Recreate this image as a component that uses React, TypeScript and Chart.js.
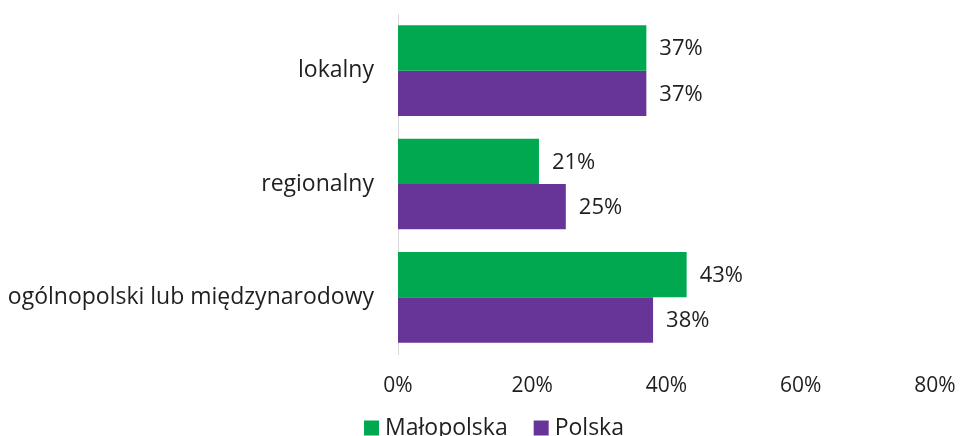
import React, { useEffect, useRef } from "react";
import { Chart, registerables } from "chart.js";

Chart.register(...registerables);

const categories = ["lokalny", "regionalny", "ogólnopolski lub międzynarodowy"];
const malopolska = [37, 21, 43];
const polska = [37, 25, 38];
const seriesNames = ["Małopolska", "Polska"];
const seriesColors = ["#00A94F", "#673597"];
const xTicks = [0, 20, 40, 60, 80];

const FONT = "'Open Sans', sans-serif";
const TEXT = "#1f1f1f";

const valueLabels = {
  id: "valueLabels",
  afterDatasetsDraw(chart: any) {
    const ctx = chart.ctx;
    ctx.save();
    ctx.font = `22px ${FONT}`;
    ctx.fillStyle = TEXT;
    ctx.textAlign = "left";
    ctx.textBaseline = "middle";
    chart.data.datasets.forEach((ds: any, i: number) => {
      const meta = chart.getDatasetMeta(i);
      meta.data.forEach((bar: any, j: number) => {
        ctx.fillText(`${ds.data[j]}%`, bar.x + 13, bar.y + 1);
      });
    });
    ctx.restore();
  },
};

const bottomLegend = {
  id: "bottomLegend",
  afterDraw(chart: any) {
    const ctx = chart.ctx;
    ctx.save();
    ctx.font = `23px ${FONT}`;
    ctx.textBaseline = "middle";
    ctx.textAlign = "left";
    const box = 15;
    const gapBoxText = 6;
    const gapItems = 26;
    const items = chart.data.datasets.map((ds: any) => ({
      label: ds.label,
      color: ds.backgroundColor,
      w: ctx.measureText(ds.label).width,
    }));
    const total = items.reduce((s: number, it: any) => s + box + gapBoxText + it.w, 0) + gapItems * (items.length - 1);
    let x = chart.width / 2 + 13 - total / 2;
    const y = 428;
    items.forEach((it: any) => {
      ctx.fillStyle = it.color;
      ctx.fillRect(x, y - box / 2, box, box);
      x += box + gapBoxText;
      ctx.fillStyle = TEXT;
      ctx.fillText(it.label, x, y);
      x += it.w + gapItems;
    });
    ctx.restore();
  },
};

export default function App() {
  const ref = useRef<HTMLCanvasElement>(null);
  useEffect(() => {
    document.body.style.margin = "0";
    const chart = new Chart(ref.current!, {
      type: "bar",
      data: {
        labels: categories,
        datasets: [
          { label: seriesNames[0], data: malopolska, backgroundColor: seriesColors[0] },
          { label: seriesNames[1], data: polska, backgroundColor: seriesColors[1] },
        ],
      },
      options: {
        indexAxis: "y",
        animation: false,
        responsive: false,
        layout: { padding: { left: 0, right: 27, top: 14, bottom: 0 } },
        datasets: { bar: { categoryPercentage: 0.8, barPercentage: 1 } },
        scales: {
          x: {
            min: 0,
            max: 80,
            afterBuildTicks(scale: any) {
              scale.ticks = xTicks.map((v) => ({ value: v }));
            },
            ticks: {
              color: TEXT,
              font: { family: FONT, size: 21 },
              padding: 19,
              maxRotation: 0,
              callback: (v: any) => `${v}%`,
            },
            grid: { display: false, drawTicks: false },
            border: { display: false },
            afterFit(scale: any) {
              scale.height = 82;
              scale.paddingLeft = 0;
              scale.paddingRight = 0;
            },
          },
          y: {
            ticks: {
              color: TEXT,
              font: { family: FONT, size: 23 },
              padding: 24,
            },
            grid: { display: false, drawTicks: false },
            border: { display: true, color: "#d9d9d9", width: 1 },
            afterFit(scale: any) {
              scale.width = 398;
              scale.paddingTop = 0;
              scale.paddingBottom = 0;
            },
          },
        },
        plugins: {
          legend: { display: false },
          tooltip: { enabled: false },
        },
      },
      plugins: [valueLabels, bottomLegend],
    });
    return () => chart.destroy();
  }, []);
  return (
    <div style={{ width: 962, height: 436 }}>
      <canvas ref={ref} width={962} height={436} style={{ width: 962, height: 436, display: "block" }} />
    </div>
  );
}
